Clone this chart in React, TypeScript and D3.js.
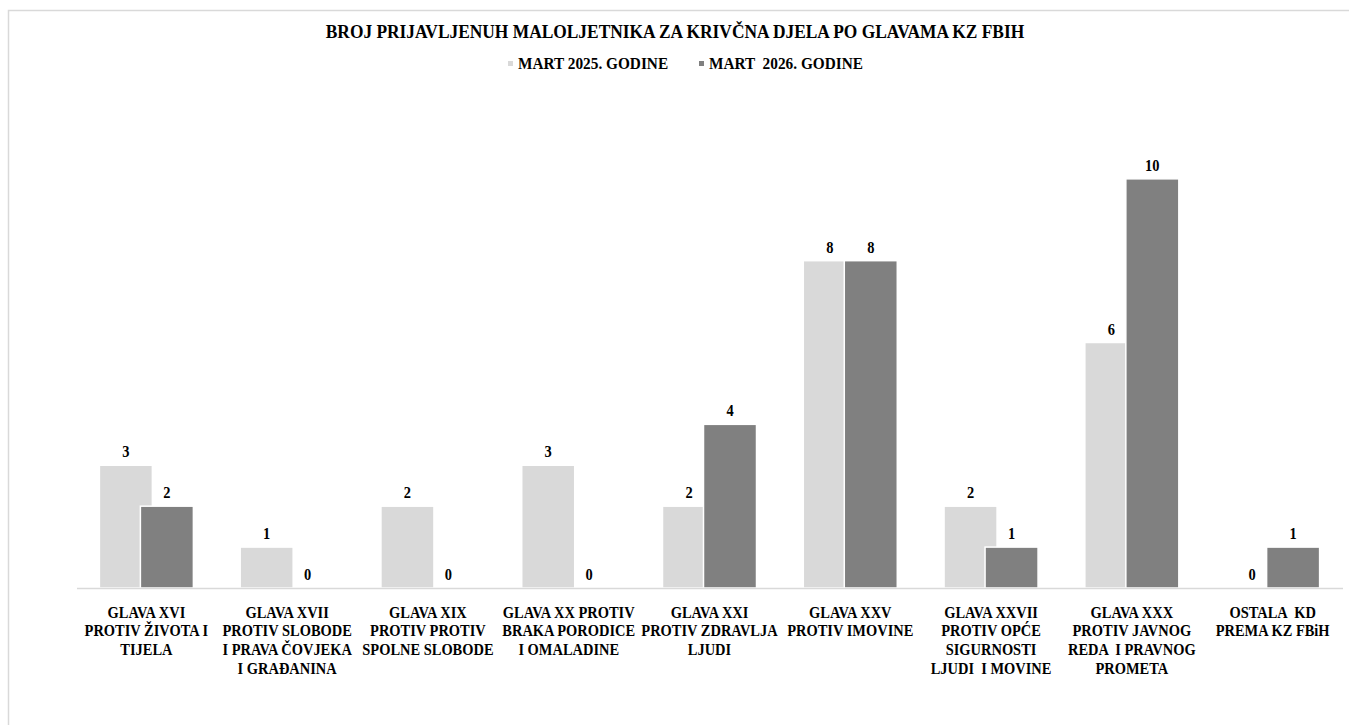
import React, { useEffect, useRef } from "react";
import * as d3 from "d3";

// kategorije (glave KZ FBiH), svaka oznaka u redovima kako je prelomljena na slici
const categories = [
  "XVI",
  "XVII",
  "XIX",
  "XX",
  "XXI",
  "XXV",
  "XXVII",
  "XXX",
  "OSTALA",
];

const categoryLines = [
  ["GLAVA XVI", "PROTIV ŽIVOTA I", "TIJELA"],
  ["GLAVA XVII", "PROTIV SLOBODE", "I PRAVA ČOVJEKA", "I GRAĐANINA"],
  ["GLAVA XIX", "PROTIV PROTIV", "SPOLNE SLOBODE"],
  ["GLAVA XX PROTIV", "BRAKA PORODICE", "I OMALADINE"],
  ["GLAVA XXI", "PROTIV ZDRAVLJA", "LJUDI"],
  ["GLAVA XXV", "PROTIV IMOVINE"],
  ["GLAVA XXVII", "PROTIV OPĆE", "SIGURNOSTI", "LJUDI  I MOVINE"],
  ["GLAVA XXX", "PROTIV JAVNOG", "REDA  I PRAVNOG", "PROMETA"],
  ["OSTALA  KD", "PREMA KZ FBiH"],
];

const seriesNames = ["MART 2025. GODINE", "MART  2026. GODINE"];
const values2025 = [3, 1, 2, 3, 2, 8, 2, 6, 0];
const values2026 = [2, 0, 0, 0, 4, 8, 1, 10, 1];
const seriesColors = ["#d9d9d9", "#808080"];

const title = "BROJ PRIJAVLJENUH MALOLJETNIKA ZA KRIVČNA DJELA PO GLAVAMA KZ FBIH";

export default function App() {
  const svgRef = useRef<SVGSVGElement>(null);

  useEffect(() => {
    const svg = d3.select(svgRef.current);
    svg.selectAll("*").remove();

    const width = 1349;
    const height = 725;
    const font = "'Liberation Serif', 'Times New Roman', serif";

    svg.attr("width", width).attr("height", height);

    // okvir grafikona
    svg
      .append("rect")
      .attr("x", 8.5)
      .attr("y", 10.5)
      .attr("width", 1360)
      .attr("height", 740)
      .attr("fill", "white")
      .attr("stroke", "#d9d9d9")
      .attr("stroke-width", 1.5);

    const x = d3.scaleBand().domain(categories).range([76, 1343]).padding(0);
    const y = d3.scaleLinear().domain([0, 12]).range([588, 97]);
    const xs = d3.scalePoint().domain(seriesNames).range([-20.5, 20.5]);
    const barW = 53;

    const data = [values2025, values2026];

    data.forEach((vals, si) => {
      const g = svg.append("g");
      const rows = vals.map((v, i) => ({ v, c: categories[i] }));

      g.selectAll("rect")
        .data(rows)
        .enter()
        .append("rect")
        .attr("x", (d) => x(d.c)! + x.bandwidth() / 2 + xs(seriesNames[si])! - barW / 2)
        .attr("y", (d) => y(d.v))
        .attr("width", barW)
        .attr("height", (d) => y(0) - y(d.v))
        .attr("fill", seriesColors[si])
        .attr("stroke", (d) => (d.v > 0 ? "white" : "none"))
        .attr("stroke-width", 1.5);
    });

    // tekst je u originalu uži i viši, pa ga sužavam po x
    const sx = 0.85;

    // vrijednosti iznad stubaca
    data.forEach((vals, si) => {
      svg
        .append("g")
        .selectAll("text")
        .data(vals)
        .enter()
        .append("text")
        .attr(
          "transform",
          (d, i) =>
            `translate(${x(categories[i])! + x.bandwidth() / 2 + xs(seriesNames[si])!},${y(d) - 8}) scale(${sx},1)`
        )
        .attr("text-anchor", "middle")
        .attr("font-family", font)
        .attr("font-weight", "bold")
        .attr("font-size", 17)
        .attr("fill", "#000")
        .text((d) => d);
    });

    // x osa
    svg
      .append("line")
      .attr("x1", 77)
      .attr("x2", 1343)
      .attr("y1", y(0) + 0.5)
      .attr("y2", y(0) + 0.5)
      .attr("stroke", "#d9d9d9")
      .attr("stroke-width", 1.5);

    const labels = svg
      .append("g")
      .selectAll("text")
      .data(categoryLines)
      .enter()
      .append("text")
      .attr(
        "transform",
        (d, i) => `translate(${x(categories[i])! + x.bandwidth() / 2},617.5) scale(${sx},1)`
      )
      .attr("text-anchor", "middle")
      .attr("font-family", font)
      .attr("font-weight", "bold")
      .attr("font-size", 17)
      .attr("fill", "#000")
      .style("white-space", "pre");

    labels
      .selectAll("tspan")
      .data((d) => d)
      .enter()
      .append("tspan")
      .attr("x", 0)
      .attr("dy", (d, j) => (j === 0 ? 0 : 19))
      .text((d) => d);

    // naslov
    svg
      .append("text")
      .attr("transform", "translate(675,38.3) scale(0.94,1)")
      .attr("text-anchor", "middle")
      .attr("font-family", font)
      .attr("font-weight", "bold")
      .attr("font-size", 18.5)
      .attr("fill", "#000")
      .text(title);

    // legenda
    const legendX = [508, 699];
    seriesNames.forEach((name, si) => {
      svg
        .append("rect")
        .attr("x", legendX[si])
        .attr("y", 61)
        .attr("width", 5)
        .attr("height", 5)
        .attr("fill", seriesColors[si]);
      svg
        .append("text")
        .attr("transform", `translate(${legendX[si] + 10},69) scale(0.875,1)`)
        .attr("font-family", font)
        .attr("font-weight", "bold")
        .attr("font-size", 17.5)
        .attr("fill", "#000")
        .style("white-space", "pre")
        .text(name);
    });
  }, []);

  return (
    <svg
      ref={svgRef}
      style={{ position: "absolute", left: 0, top: 0, display: "block" }}
    ></svg>
  );
}
